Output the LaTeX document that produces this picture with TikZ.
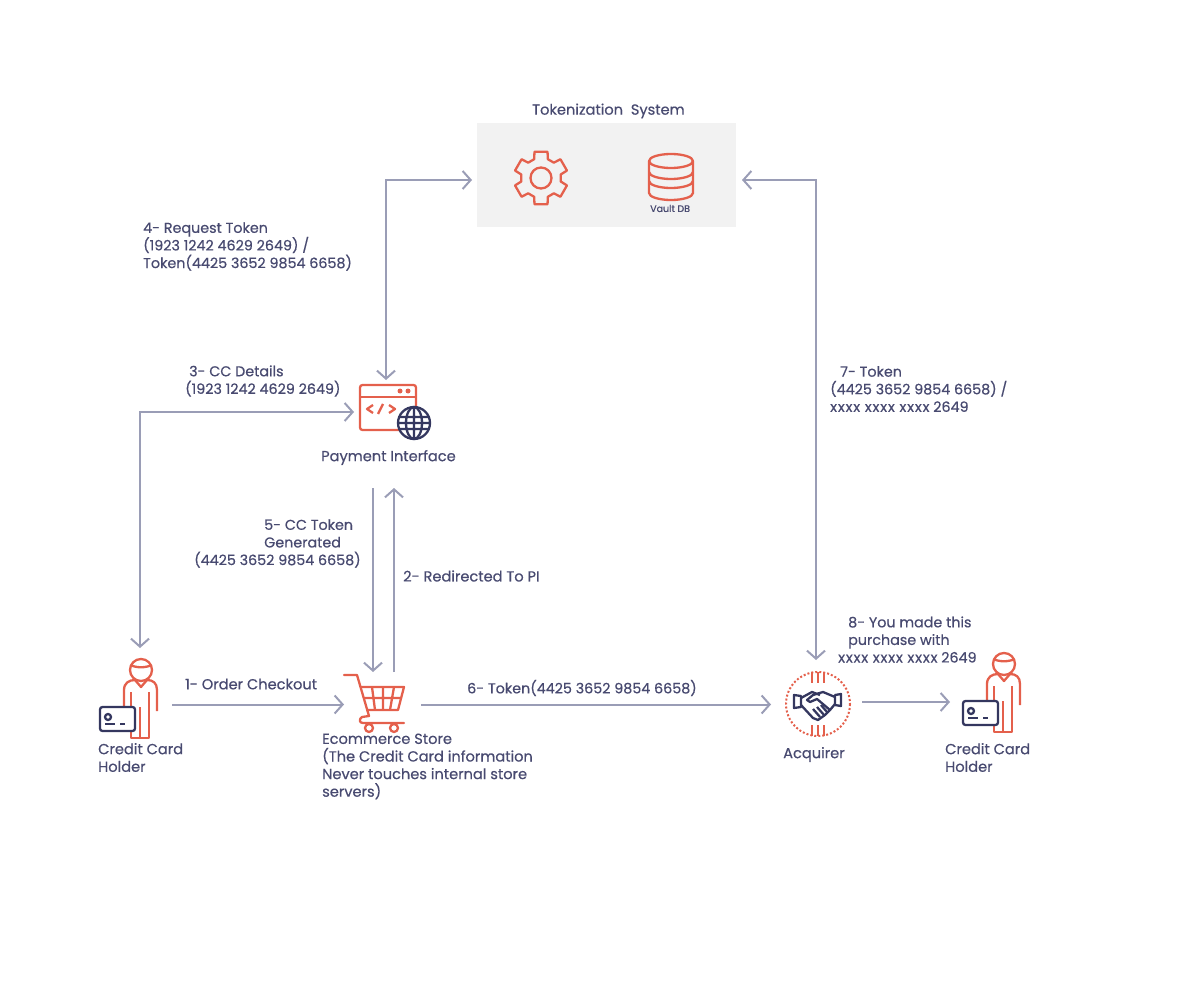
\documentclass[tikz,border=0pt]{standalone}
\usepackage{fontspec}
\usetikzlibrary{arrows.meta}
\setmainfont{Poppins}[RawFeature={embolden=0.5}]
\definecolor{inkblue}{HTML}{484A70}
\definecolor{iconred}{HTML}{E4604C}
\definecolor{iconblue}{HTML}{34375F}
\definecolor{arrowgrey}{HTML}{9A9DB6}
\definecolor{boxgrey}{HTML}{F2F2F2}
\newcommand{\maskedcard}{{\addfontfeature{LetterSpace=6}xxxx xxxx xxxx} 2649}
\tikzset{
    label text/.style={anchor=west, text=inkblue, font=\fontsize{14.6}{17.6}\selectfont, inner sep=0pt, align=left},
    number text/.style={label text, font=\fontsize{14.3}{17.6}\selectfont},
    slot/.style={inner sep=0pt, outer sep=0pt, minimum width=#1},
    link/.style={draw=arrowgrey, line width=2pt, -{Straight Barb[length=8pt,width=18pt,line width=2pt]}},
    twolink/.style={draw=arrowgrey, line width=2pt, {Straight Barb[length=8pt,width=18pt,line width=2pt]}-{Straight Barb[length=8pt,width=18pt,line width=2pt]}},
    redline/.style={draw=iconred, line width=2.3pt, line join=round},
    blueline/.style={draw=iconblue, line width=2.3pt, line join=round},
    holder/.pic={
        \draw[redline] (1,-30) circle (11);
        \draw[redline] (-9.5,-35) .. controls (-4,-32) and (6,-32) .. (11.5,-35);
        \draw[redline] (-16,11) -- (-16,-10) .. controls (-16,-17) and (-11,-20) .. (-5,-20) -- (1,-13) -- (7,-20)
            .. controls (13,-20) and (17,-17) .. (17,-10) -- (17,11);
        \draw[redline] (-9,-8) -- (-9,38) -- (9,38) -- (9,-8);
        \draw[redline] (0,7) -- (0,38);
        \draw[blueline, fill=white, rounded corners=2.5pt] (-40,7) rectangle (-5,31);
        \draw[blueline] (-32,17) circle (3);
        \draw[blueline] (-35,24) -- (-25,24) (-20,24) -- (-15,24);
    },
    gearwheel/.pic={
        \draw[redline] (10:20) \foreach \a in {30,90,...,330} {-- (\a-20:20) -- (\a-14:27) -- (\a+14:27) -- (\a+20:20)} -- cycle;
        \draw[redline] (0,0) circle (10.5);
    },
    vaultstack/.pic={
        \draw[redline] (0,-14) ellipse (22 and 7);
        \draw[redline] (-22,-14) -- (-22,18) arc[start angle=180, end angle=0, x radius=22, y radius=7] -- (22,-14);
        \draw[redline] (-22,-3) arc[start angle=180, end angle=0, x radius=22, y radius=7];
        \draw[redline] (-22,6) arc[start angle=180, end angle=0, x radius=22, y radius=7];
    },
    webwindow/.pic={
        \draw[redline, rounded corners=2.5pt] (-28,-22) rectangle (28,23);
        \draw[redline] (-28,-10) -- (28,-10);
        \fill[iconred] (12,-16) circle (2.5) (20,-16) circle (2.5);
        \draw[redline] (-15,-2) -- (-21,2) -- (-15,6) (-10,7) -- (-5,-3) (1,-2) -- (7,2) -- (1,6);
        \draw[blueline, fill=white] (26,16) circle (16);
        \draw[blueline] (26,16) ellipse (8 and 16) (26,0) -- (26,32) (10,16) -- (42,16) (12,10) -- (40,10) (12,22) -- (40,22);
    },
    trolley/.pic={
        \draw[redline, line cap=round] (-31,-25) -- (-18,-25) -- (-6,16) -- (-13,17) .. controls (-16,19) and (-16,23) .. (-12,23) -- (29,23);
        \draw[redline] (-15,-13) -- (29,-13) -- (23,10) -- (-9,10);
        \draw[redline] (-12,-2) -- (26,-2) (-3,-13) -- (0,10) (8,-13) -- (8,10) (19,-13) -- (15,10);
        \draw[redline, fill=white] (-6,28) circle (4) (19,28) circle (4);
    },
    handshake/.pic={
        \draw[redline, dash pattern=on 2pt off 2pt, line width=2pt] (0,0) circle (32);
        \foreach \x in {-6,0,6} {\draw[redline] (\x,-32) -- (\x,-21) (\x,21) -- (\x,32);}
        \draw[blueline] (-24,-9) -- (-17,-8) -- (-17,3) -- (-24,4) -- cycle;
        \draw[blueline] (17,-9) -- (23,-10) -- (23,2) -- (17,1) -- cycle;
        \draw[blueline] (-17,-6) -- (-6,-12) -- (2,-9);
        \draw[blueline] (17,-7) -- (5,-12) -- (-5,-9) -- (-11,-4) -- (-8,-2) -- (-1,-5) -- (12,6);
        \draw[blueline] (-17,1) -- (-5,14) -- (0,16) -- (7,11) -- (12,6) -- (17,0);
        \draw[blueline] (-5,5) -- (2,13) (-1,3) -- (6,11) (3,1) -- (9,8);
    },
}
\begin{document}
\begin{tikzpicture}[x=1pt, y=-1pt]
\useasboundingbox (0,0) rectangle (1180,981);

% tokenization box
\node[fill=boxgrey, minimum width=259pt, minimum height=104pt, inner sep=0pt, outer sep=0pt] (tokenbox) at (606.5,175) {};
\pic at (541,178) {gearwheel};
\pic at (671,175) {vaultstack};
\node[label text] (tokentitle) at (532,111) {Tokenization\ \ System};
\node[label text, font=\fontsize{9.5}{11}\selectfont] (vaulttext) at (650,208.5) {Vault DB};

% icons
\node[slot=64pt, minimum height=113pt] (holderA) at (140,704.5) {};
\pic at (140,700) {holder};
\pic at (388,407) {webwindow};
\pic at (375,700) {trolley};
\node[slot=77pt, minimum height=66pt] (store) at (382.5,704.5) {};
\pic at (818,704) {handshake};
\node[slot=91pt, minimum height=40pt] (acquirer) at (816.5,704.5) {};
\pic at (1003,694) {holder};
\node[slot=50pt, minimum height=40pt] (holderB) at (975,702) {};

% end points of the links
\coordinate (payleft) at (354,412);
\coordinate (paytop) at (386,380);
\coordinate (paydown) at (373,488);
\coordinate (payup) at (394,488);
\coordinate (storedown) at (373,672);
\coordinate (storeup) at (394,672);
\coordinate (tokenleft) at (472,180);
\coordinate (tokenright) at (742,180);
\coordinate (acqtop) at (816,660);

% links
\path[link] (holderA.east) -- (store.west);
\path[link] (storeup) -- (payup);
\path[link] (paydown) -- (storedown);
\path[link] (store.east) -- (acquirer.west);
\path[link] (acquirer.east |- holderB.west) -- (holderB.west);
\path[twolink] (holderA.north) |- (payleft);
\path[twolink] (paytop) |- (tokenleft);
\path[twolink] (acqtop) |- (tokenright);

% labels
\node[label text] (step1) at (185,684) {1- Order Checkout};
\node[label text] (step2) at (403,576) {2- Redirected To PI};
\node[number text] (step3) at (185,381) {\hspace*{4pt}3- CC Details\\(1923 1242 4629 2649)};
\node[number text] (step4) at (143,246.5) {4- Request Token\\(1923 1242 4629 2649) /\\Token(4425 3652 9854 6658)};
\node[number text] (step5) at (194,543.5) {\hspace*{70pt}5- CC Token\\\hspace*{70pt}Generated\\(4425 3652 9854 6658)};
\node[number text] (step6) at (467,688) {6- Token(4425 3652 9854 6658)};
\node[number text] (step7) at (830,389) {\hspace*{10pt}7- Token\\(4425 3652 9854 6658) /\\\maskedcard};
\node[number text] (step8) at (838,639.5) {\hspace*{10pt}8- You made this\\\hspace*{10pt}purchase with\\\maskedcard};
\node[label text] (paytext) at (321,457.5) {Payment Interface};
\node[label text] (holdertextA) at (98,757.5) {Credit Card\\Holder};
\node[label text] (storetext) at (322,766.5) {Ecommerce Store\\(The Credit Card information\\Never touches internal store\\servers)};
\node[label text] (acqtext) at (783,754.5) {Acquirer};
\node[label text] (holdertextB) at (945,757.5) {Credit Card\\Holder};
\end{tikzpicture}
\end{document}
